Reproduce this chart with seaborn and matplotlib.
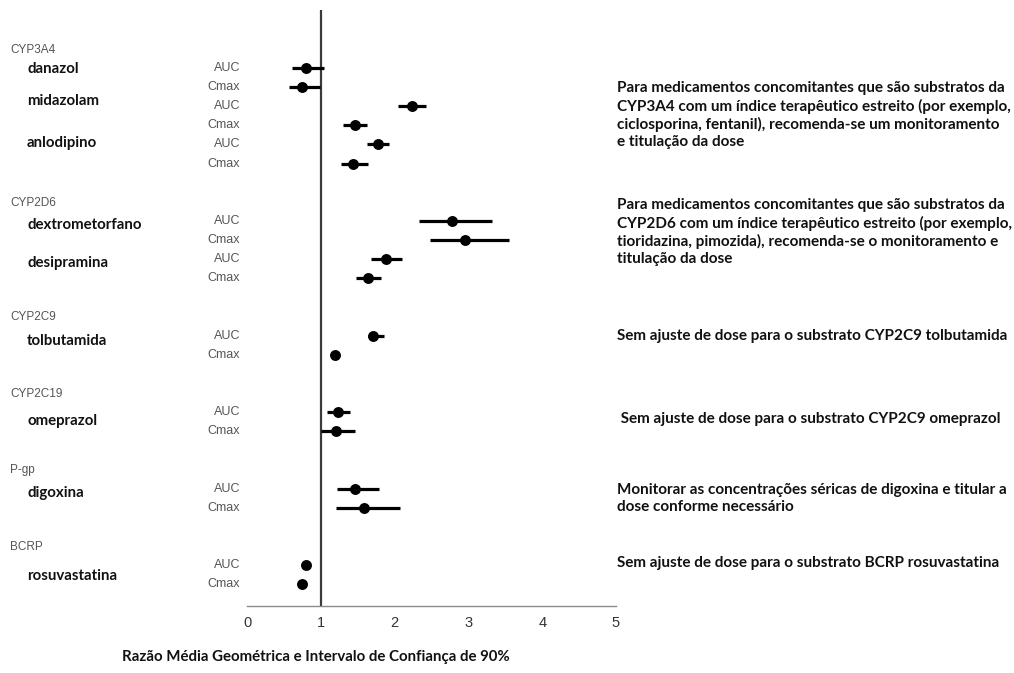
import numpy as np
import pandas as pd
import matplotlib
matplotlib.use("Agg")
import matplotlib.pyplot as plt
import matplotlib.transforms as mtransforms
import seaborn as sns

# ---------------- DATA ----------------
enzymes = ["CYP3A4", "CYP2D6", "CYP2C9", "CYP2C19", "P-gp", "BCRP"]
drugs = ["danazol", "midazolam", "anlodipino", "dextrometorfano", "desipramina",
         "tolbutamida", "omeprazol", "digoxina", "rosuvastatina"]
drug_enzyme = ["CYP3A4", "CYP3A4", "CYP3A4", "CYP2D6", "CYP2D6",
               "CYP2C9", "CYP2C19", "P-gp", "BCRP"]

auc_gmr = [0.80, 2.23, 1.78, 2.78, 1.88, 1.71, 1.23, 1.47, 0.80]
auc_lo = [0.61, 2.05, 1.63, 2.33, 1.68, 1.64, 1.08, 1.22, 0.76]
auc_hi = [1.04, 2.43, 1.93, 3.32, 2.10, 1.85, 1.40, 1.79, 0.84]

cmax_gmr = [0.75, 1.46, 1.44, 2.95, 1.64, 1.19, 1.21, 1.58, 0.75]
cmax_lo = [0.57, 1.30, 1.27, 2.48, 1.48, 1.15, 1.00, 1.20, 0.71]
cmax_hi = [0.99, 1.62, 1.64, 3.55, 1.82, 1.24, 1.47, 2.07, 0.80]

notes = [
    "Para medicamentos concomitantes que são substratos da\n"
    "CYP3A4 com um índice terapêutico estreito (por exemplo,\n"
    "ciclosporina, fentanil), recomenda-se um monitoramento\n"
    "e titulação da dose",
    "Para medicamentos concomitantes que são substratos da\n"
    "CYP2D6 com um índice terapêutico estreito (por exemplo,\n"
    "tioridazina, pimozida), recomenda-se o monitoramento e\n"
    "titulação da dose",
    "Sem ajuste de dose para o substrato CYP2C9 tolbutamida",
    " Sem ajuste de dose para o substrato CYP2C9 omeprazol",
    "Monitorar as concentrações séricas de digoxina e titular a\n"
    "dose conforme necessário",
    "Sem ajuste de dose para o substrato BCRP rosuvastatina",
]
xlabel = "Razão Média Geométrica e Intervalo de Confiança de 90%"

# ---------------- LAYOUT (rows) ----------------
rows = []
row = 0
prev = None
for d, e in zip(drugs, drug_enzyme):
    if prev is not None and e != prev:
        row += 2
    rows.append(row)
    row += 2
    prev = e

df = pd.DataFrame({
    "drug": np.repeat(drugs, 2),
    "param": ["AUC", "Cmax"] * len(drugs),
    "gmr": np.ravel(np.column_stack([auc_gmr, cmax_gmr])),
    "lo": np.ravel(np.column_stack([auc_lo, cmax_lo])),
    "hi": np.ravel(np.column_stack([auc_hi, cmax_hi])),
    "row": np.ravel(np.column_stack([rows, np.array(rows) + 1])),
})

first_row = {}
for d, e, r in zip(drugs, drug_enzyme, rows):
    first_row.setdefault(e, r)

# small vertical nudges for the drug names and note blocks (row units)
name_shift = [0.05, -0.3, -0.1, 0.2, 0.2, 0.3, 0.45, 0.25, 0.55]
note_rows = [2.46, 8.58, 14.02, 18.36, 22.5, 25.9]

# ---------------- PLOT ----------------
sns.set_style("white")
plt.rcParams["font.family"] = ["Lato", "DejaVu Sans"]

fig = plt.figure(figsize=(10.14, 6.73), dpi=100)
ax = fig.add_axes([0.2436, 0.0996, 0.6075 - 0.2436, 0.985 - 0.0996])

ax.hlines(df["row"], df["lo"], df["hi"], color="black", lw=2.3, zorder=2)
sns.scatterplot(data=df, x="gmr", y="row", color="black", s=62,
                edgecolor="black", linewidth=0, ax=ax, zorder=3, legend=False)
ax.axvline(1, color="#3a3a3a", lw=1.6, zorder=1)

ax.set_xlim(0, 5)
ax.set_ylim(28.14, -3.03)
ax.set_yticks([])
ax.set_xticks(range(6))
ax.set_xticks(np.arange(0.5, 5, 1), minor=True)
ax.set_xlabel("")
ax.set_ylabel("")
for s in ["top", "right", "left"]:
    ax.spines[s].set_visible(False)
ax.spines["bottom"].set_color("#8a8a8a")
ax.spines["bottom"].set_linewidth(1.0)
ax.tick_params(axis="x", which="major", direction="inout", length=8, width=1,
               color="#8a8a8a", labelsize=10.5, labelcolor="#333333", pad=3)
ax.tick_params(axis="x", which="minor", direction="inout", length=5, width=1,
               color="#8a8a8a")
for lab in ax.get_xticklabels():
    lab.set_family(["Liberation Sans", "DejaVu Sans"])

tr = mtransforms.blended_transform_factory(fig.transFigure, ax.transData)
grey_font = ["Liberation Sans", "DejaVu Sans"]

for e in enzymes:
    ax.text(10 / 1014, first_row[e] - 0.95, e, transform=tr, fontsize=8.5,
            color="#555555", family=grey_font, va="center", ha="left", clip_on=False)

for d, r, sh in zip(drugs, rows, name_shift):
    ax.text(27 / 1014, r + sh, d, transform=tr, fontsize=10.8,
            fontweight="bold", color="#111111", va="center", ha="left", clip_on=False)

for _, rec in df.iterrows():
    ax.text(240 / 1014, rec["row"], rec["param"], transform=tr, fontsize=9,
            color="#555555", family=grey_font, va="center", ha="right", clip_on=False)

for txt, r in zip(notes, note_rows):
    ax.text(617 / 1014, r, txt, transform=tr, fontsize=11, fontweight="bold",
            color="#111111", va="center", ha="left", linespacing=1.27, clip_on=False)

fig.text(316 / 1014, 1 - 657 / 673, xlabel, fontsize=10.8, fontweight="bold",
         color="#111111", ha="center", va="center")

fig.savefig("out.png", dpi=100, facecolor="white")
